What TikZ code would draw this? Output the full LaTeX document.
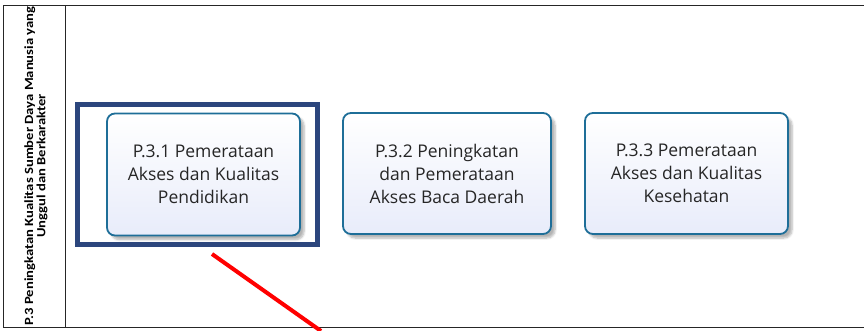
\documentclass[tikz,border=0pt]{standalone}
\usepackage{fontspec}
\setmainfont{Open Sans}
\newfontfamily\lanefont{Carlito}
\usetikzlibrary{shadows.blur}
\definecolor{boxedge}{RGB}{30,110,152}
\definecolor{boxtint}{RGB}{232,236,250}
\definecolor{framenavy}{RGB}{44,70,125}
\tikzset{
  x=1pt, y=-1pt,
  stepbox/.style={draw=boxedge, line width=1.8pt, rounded corners=8pt,
    top color=white, bottom color=boxtint,
    blur shadow={shadow xshift=4pt, shadow yshift=-4pt, shadow opacity=30, shadow blur steps=6},
    align=center, font=\fontsize{17.5}{23}\selectfont\color{black!85}},
  lane/.style={draw=black!85, line width=1pt},
  focus/.style={draw=framenavy, line width=5pt},
  pointer/.style={draw=red, line width=4pt}
}
\begin{document}
\begin{tikzpicture}
\useasboundingbox (0,0) rectangle (864,330);
% swimlane frame
\draw[lane] (864,5) -- (3.5,5) -- (3.5,327) -- (864,327);
\draw[lane] (65,5) -- (65,327);
\node[rotate=90, inner sep=0pt, font=\lanefont\bfseries\fontsize{12.5}{11.5}\selectfont] (title) at (36.5,166)
  {\scalebox{1.17}[1]{\begin{tabular}{@{}c@{}}P.3 Peningkatan Kualitas Sumber Daya Manusia yang\\Unggul dan Berkarakter\end{tabular}}};
% highlight frame
\node[focus, minimum width=240pt, minimum height=140pt, inner sep=0pt] (hl) at (197.5,174.5) {};
% process boxes
\node[stepbox, minimum width=193pt, minimum height=122pt] (p1) at (203.5,174.5)
  {P.3.1 Pemerataan\\Akses dan Kualitas\\Pendidikan};
\node[stepbox, minimum width=208pt, minimum height=121pt] (p2) at (447,173.5)
  {P.3.2 Peningkatan\\dan Pemerataan\\Akses Baca Daerah};
\node[stepbox, minimum width=203pt, minimum height=121pt] (p3) at (686.5,173.5)
  {P.3.3 Pemerataan\\Akses dan Kualitas\\Kesehatan};
% red pointer
\coordinate (ptrA) at (212,254);
\coordinate (ptrB) at (321,331);
\draw[pointer] (ptrA) -- (ptrB);
\end{tikzpicture}
\end{document}
